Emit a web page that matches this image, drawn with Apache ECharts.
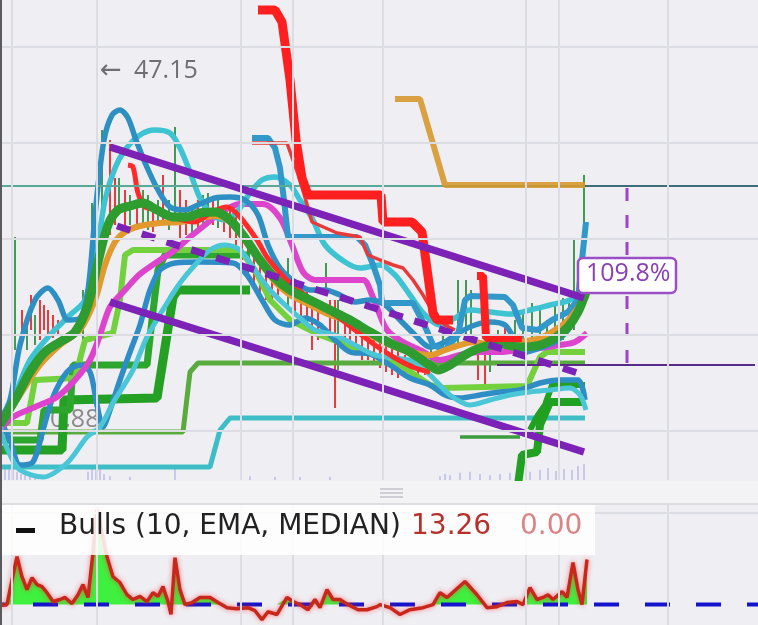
<!DOCTYPE html>
<html>
<head>
<meta charset="utf-8">
<script src="https://cdn.jsdelivr.net/npm/echarts@6/dist/echarts.min.js"></script>
<style>
  html, body { margin: 0; padding: 0; background: #eeeef3; }
  #chart { width: 758px; height: 625px; }
</style>
</head>
<body>
<div id="chart"></div>
<script>
// x = bar index, y = price level (main pane) / bulls power (lower pane)

// grid lines
let gridX = [3, 24.25, 60.25, 73.25, 95.75, 131.5, 139.75, 167];
let gridY = [43.3, 33.7, 24.1, 14.5, 4.9];
let gridYBulls = [27.1];

// indicator lines
let blueHump = [[0,6.0],[2.5,8.0],[5,13.5],[8.75,18.0],[12,19.2],[14.5,18.0],[17,16.0],[20,16.2],[22,19.0],[24,27.5],[26,34.0],[28,36.5],[30,37.0],[32,36.2],[34,34.0],[36.5,31.5],[39.5,29.0],[42.5,27.3],[46.25,27.0],[50,27.6],[53.75,28.2],[57.5,28.3],[61.25,28.0],[64.5,26.5],[67,23.5],[70,21.2],[73.75,19.8],[77.5,19.0],[81.25,19.0],[85,18.5],[88.75,17.8],[92.5,18.0],[96.25,17.5],[100,16.0],[103.75,14.5],[107.5,13.3],[111.25,13.8],[115,14.8],[118.75,15.5],[122.5,15.8],[126.25,15.5],[128.75,14.0],[131.25,12.8],[135,13.2],[138.75,13.8],[142,15.0],[144.5,17.0]];
let blueDeep = [[0,6.0],[2.5,4.0],[5,1.5],[8.25,1.8],[10.75,5.0],[13.25,8.3],[16.75,10.8],[20,11.5],[22.5,10.8],[24.25,7.5],[25.75,5.3],[27.5,7.0],[30,10.0],[32.5,12.8],[35,15.5],[37.5,19.0],[40,21.0],[43.75,21.7],[50,21.8],[58.25,21.7],[61.75,20.5],[65.5,18.0],[68.75,16.0],[72.5,15.5],[76.25,16.2],[80,15.5],[83.75,14.0],[87.5,12.8],[92.5,12.6],[97.5,11.5],[102.5,10.2],[107.5,9.5],[111.25,8.5],[115,8.2],[120,8.5],[125,8.8],[130,9.0],[135,9.7],[140,10.0],[144.5,10.0],[146.25,8.0]];
let cyanArc = [[0,5.0],[3.75,8.5],[7.5,12.0],[12.5,14.5],[17.5,16.5],[21.25,18.0],[24.25,23.0],[26.25,28.0],[28.75,31.2],[31.25,33.0],[35,34.5],[38.75,35.0],[42.5,34.7],[45,33.2],[47.5,30.8],[50,28.2],[53,26.5],[56.25,26.0],[59.25,26.8],[62.5,28.7],[65.5,30.0],[68.75,30.3],[72.5,29.5],[75,28.0],[78,26.2],[81.25,23.5],[86.25,21.8],[90,21.2],[95,21.5],[98.75,20.5],[102.5,18.5],[106.25,16.5],[110,15.5],[113.75,16.2],[117.5,17.0],[122.5,16.8],[127.5,16.6],[132.5,17.0],[137.5,17.5],[142.5,18.0],[146.25,19.2]];
let cyanDeep = [[0,5.0],[2.5,2.5],[5,1.0],[10.75,0.3],[16.75,1.7],[21.75,4.3],[25,5.3],[28.25,7.7],[33.25,11.0],[36.75,14.3],[41.75,17.7],[45,19.7],[48.75,21.5],[52.5,23.0],[56.25,23.5],[60,23.0],[63.75,21.0],[67.5,19.0],[71.25,17.5],[75,16.2],[78.75,15.0],[83.75,14.5],[88.75,13.5],[93.75,12.5],[98.75,12.2],[103.75,11.8],[108.75,10.0],[112.5,8.5],[117.5,7.5],[122.5,8.0],[127.5,8.5],[132.5,8.8],[137.5,9.0],[142.5,9.2],[145,8.5],[146.5,7.0]];
let blueStep = [[63,34.2],[67,34.2],[68.75,33.2],[70,31.2],[71,28.0],[72,24.3],[89.25,24.3],[91.25,23.5],[93,21.8],[95,19.5],[95.5,17.7],[103.25,17.7],[105.75,15.8],[108.25,13.5],[111.25,13.0],[114.5,14.5],[116.25,18.0],[117.5,18.4],[126.25,18.3],[128.25,17.5],[130.5,15.2],[134.5,15.0],[138,16.0],[142,16.8],[144.5,18.0],[145.5,22.0],[146.5,25.8]];
let redThin = [[63,33.7],[71.75,33.7],[75,30.0],[78,25.8],[84.25,24.7],[90,24.3],[92,22.5],[95,22.0],[98.25,21.5],[100.75,21.2],[103.25,20.0],[105.75,18.5],[108.25,16.8],[111.25,15.5],[113.75,15.0]];
let redStop = [[64.5,47.0],[68.75,47.0],[70.5,45.8],[72.5,40.0],[74,34.0],[75.5,30.2],[77,28.5],[95.25,28.5],[95.75,25.8],[103,25.8],[105.5,24.8],[108.25,16.7],[109.25,16.0],[113.25,16.0]];
let redStop2 = [[119.25,20.4],[120.75,20.4],[121.5,14.2],[130.5,14.2]];
let redPrice = [[32,31.5],[33.25,31.3],[34.5,28.7],[36.25,27.3],[40,27.0],[43.75,26.2],[48.75,25.8],[53,26.8],[56.75,27.3],[60,26.3],[64.25,24.0],[66.75,22.3],[70,20.7],[73,19.5],[76.25,18.5],[79.5,17.5],[83.75,16.5],[88.75,15.0],[93.75,13.5],[98.75,12.2],[103.75,11.2],[107.5,10.8]];
let magenta = [[0,5.0],[3.25,6.3],[8.75,7.3],[14.25,8.3],[18.75,10.0],[22.5,12.0],[25,14.5],[27.5,17.3],[31.25,19.0],[35,20.6],[40,22.0],[43.75,23.0],[47.5,24.3],[51.25,25.5],[55,26.7],[60,27.6],[65.75,27.6],[70,26.2],[73,23.5],[75.75,20.8],[78.75,20.0],[90.75,20.0],[93,18.5],[96.75,15.0],[101.25,13.7],[105,13.0],[110,12.0],[115,12.5],[120,12.8],[125,12.8],[130,13.0],[135,13.2],[140,13.5],[143.75,13.8],[146.75,14.7]];
let orange = [[0,5.5],[5,8.5],[10,11.5],[15,13.5],[20,15.0],[23.75,18.0],[26.25,21.5],[28.75,23.8],[31.25,24.8],[35,25.4],[40,25.7],[45,25.8],[50,26.2],[53.75,26.4],[57.5,25.8],[61.25,24.0],[65,21.8],[68.75,19.8],[72.5,18.5],[77.5,17.5],[82.5,16.5],[87.5,15.8],[92.5,14.5],[97.5,13.5],[102.5,12.8],[107.5,12.5],[111.25,13.0],[115,13.5],[118.75,13.8],[122.5,13.5],[126.25,13.5],[130,13.8],[135,14.2],[138.75,15.0],[142,16.0],[145,17.5],[146.75,18.5]];
let greenMain = [[0,5.5],[3.75,8.0],[7.5,10.8],[11.25,12.8],[15,13.8],[18.75,14.8],[22,17.5],[24.5,21.8],[27,25.5],[29.5,27.0],[32.5,27.4],[35.75,27.7],[39.25,27.0],[43.25,26.3],[46.75,26.3],[50,26.7],[53.75,26.8],[57.5,26.0],[61.25,24.2],[65,22.0],[68.75,20.2],[72.5,19.0],[77.5,18.0],[82.5,17.0],[87.5,16.0],[92.5,14.8],[97.5,13.7],[102.5,12.8],[106.25,11.8],[109.5,11.0],[112.5,11.5],[116.25,12.5],[120,13.2],[125,13.6],[130,13.3],[135,13.5],[138.75,14.2],[142,15.3],[144.5,16.8],[146.5,18.8]];
let greenStepA = [[0,3.0],[15.5,3.0],[16,8.0],[39.25,8.2],[40.75,12.0],[43.25,18.3],[44.5,19.0],[62.5,19.0]];
let greenStepB = [[0,4.0],[10,4.0],[11,7.0],[17.5,7.0],[18.25,11.5],[36.75,11.5],[38,16.0],[39.5,21.0],[41.25,22.5],[62.5,22.5]];
let lime = [[0,5.7],[6.75,5.7],[8.75,10.0],[18.75,10.2],[21.25,14.0],[28.25,14.7],[30,18.0],[31.25,22.5],[33.25,23.0],[50,23.0],[60,23.0],[63.75,21.0],[67.5,18.0],[72.5,16.0],[80,14.5],[90,13.0],[100,11.5],[107.5,9.5],[110.75,9.2],[131.75,9.4],[135,12.3],[136.75,12.8],[146.25,12.8]];
let greenLow = [[0,4.8],[45.75,4.8],[47.5,10.8],[49.5,11.7],[146.25,11.7]];
let cyanLow = [[0,1.3],[52.5,1.3],[55,5.0],[57.5,6.2],[146.25,6.2]];
let greenShort = [[115,4.3],[130,4.3]];
let greenRise1 = [[129.5,-0.5],[130.5,2.5],[134.25,2.8],[135,5.5],[137.5,7.8],[146.25,7.8]];
let greenRise2 = [[132.5,5.0],[134.5,6.5],[136.25,7.5],[138,9.5],[146.25,9.5]];
let goldStep = [[98.75,38.1],[105,38.1],[111.25,29.5],[146.25,29.5]];

// levels and drawings
let tealLevel = 29.4;
let lastBar = 146.25;
let purpleLevel = [124.25, 188.75, 11.5];
let channelTop = [[27.5,33.3],[146,18.2]];
let channelMid = [[29.25,25.4],[146,10.5]];
let channelLow = [[27.5,17.8],[146,2.8]];
let measure = [[156.75,29.2],[156.75,11.5]];

// candles: [bar, low, high, up]
let candles = [[0,6.5,8.5,0],[3.75,13.0,24.3,1],[5.5,13.5,17.0,0],[6.75,13.0,16.0,1],[7.75,15.0,18.5,0],[8.75,13.5,16.5,1],[10,14.0,18.0,0],[11,15.0,17.5,0],[12,14.0,17.0,0],[13.25,14.2,16.5,0],[14.5,14.5,16.0,0],[20.75,13.3,19.0,1],[23,18.0,27.7,1],[24.25,23.0,40.3,0],[25.5,26.5,35.0,1],[27.5,24.5,34.0,0],[28.75,25.5,30.2,0],[29.75,26.7,30.2,1],[31.25,24.8,29.0,0],[32.5,25.5,28.5,1],[34.25,25.0,28.0,0],[35.75,25.5,29.0,1],[37,25.0,28.5,1],[38.25,24.8,27.5,0],[39.5,25.5,28.0,1],[40.75,25.5,30.5,0],[42.25,25.0,28.0,1],[43.75,26.0,35.3,1],[45,24.0,29.0,0],[46.5,24.5,28.0,0],[48,24.8,27.5,1],[49.5,25.0,28.0,0],[50.75,25.2,28.5,1],[52,25.5,28.7,1],[53.25,25.5,28.2,0],[54.5,25.2,28.0,1],[56,24.8,27.5,0],[57.5,24.0,27.0,0],[59,23.0,26.5,0],[60.5,22.0,25.5,0],[62,20.5,24.0,0],[63.5,19.0,22.5,0],[65,18.0,21.5,0],[66.5,18.0,21.0,0],[68,18.0,20.5,0],[69.5,18.0,20.0,0],[72,17.0,22.2,1],[73.75,16.5,19.5,0],[75.25,16.0,19.0,0],[76.75,15.5,19.0,0],[78,13.0,18.0,0],[79.5,14.0,17.5,0],[81.5,18.5,21.7,1],[82.5,14.5,18.0,0],[83.75,7.2,18.0,0],[84.5,11.0,18.0,1],[86.25,13.5,16.5,0],[87.5,13.0,16.0,0],[89,12.5,16.0,0],[90.5,12.0,15.5,0],[92,12.0,15.0,0],[93.5,11.5,14.5,0],[95,11.2,14.0,0],[96.5,10.8,13.5,0],[98,10.5,13.2,0],[99.5,10.2,13.0,0],[101.25,10.2,12.5,0],[102.75,10.5,12.5,0],[104.5,10.2,12.2,0],[106.25,10.5,12.5,0],[107.75,11.0,14.0,1],[110.75,13.2,14.8,1],[114.5,13.5,20.0,1],[116.5,13.5,20.0,1],[117.75,14.0,19.0,1],[119.5,10.0,13.0,0],[121.25,9.5,13.0,0],[122.5,10.8,12.5,1],[124.5,12.5,15.0,1],[126.25,13.5,15.5,0],[128.75,13.5,16.0,1],[130.75,14.0,17.0,1],[133,13.0,17.7,1],[135,14.2,17.0,1],[136.75,13.5,16.0,1],[138.75,14.5,17.5,1],[140.75,14.0,18.2,1],[142.25,15.0,18.0,1],[143.5,15.0,24.0,1],[146,18.0,30.5,1]];

let volume = [[1.25,2.5],[2.25,3.1],[3.25,2.1],[4.25,1.7],[5.25,1.25],[6.25,1.0],[7.5,0.8],[8.75,0.6],[22,1.7],[23,2.9],[24,3.3],[25,2.5],[26,1.25],[27.5,0.8],[32.5,0.6],[43.75,2.5],[62.5,0.8],[68.75,0.6],[75,0.6],[82.5,0.6],[110,0.8],[111.25,1.25],[112.5,1.0],[115,1.5],[117.5,1.7],[120,1.25],[122.5,1.0],[125,1.25],[127.5,1.5],[130,1.0],[132.5,1.7],[135,2.1],[137,2.5],[139,1.9],[141,2.3],[143,2.1],[144.5,2.9],[146,3.3]];

// Bulls (10, EMA, MEDIAN)
let bulls = [[0,-0.3],[1.75,0],[2.5,4.4],[4.25,14.1],[5.5,8.2],[6.75,4.4],[8,7.9],[9.25,5.9],[10.5,5.3],[11.75,3.5],[13.25,0.9],[15,1.5],[16.25,2.1],[18,0.3],[19.5,2.9],[20.75,5.9],[22,2.1],[23.25,15.3],[24.25,27.9],[26.75,14.1],[28.25,8.2],[30,6.5],[31.75,2.9],[33.25,1.5],[35,2.4],[36.75,0.9],[38.25,3.5],[39.5,2.4],[40.75,5.3],[42,0.9],[42.75,-2.9],[43.75,13.8],[45,4.4],[46.25,0],[48,0.6],[50,2.1],[52.5,2.1],[54.5,0.6],[56.75,-0.9],[59.25,-1.2],[62,-0.9],[63.75,-1.8],[65.5,-4.4],[67,-2.1],[69.25,-2.9],[71.75,2.1],[73.25,0.9],[75,0],[77,-1.5],[78.75,1.5],[80,-0.9],[81.75,4.4],[83.25,1.5],[85,1.5],[87,0],[89.5,-1.5],[91.75,-1.5],[94.25,-0.6],[95,0],[97.5,-0.9],[100,-2.9],[102.5,-1.5],[105.75,-0.9],[108.25,0],[110,3.5],[111.75,2.1],[116.25,6.8],[119.25,2.9],[121.75,-0.9],[124.25,-0.6],[126.75,0.6],[129.25,0.9],[130.75,0],[132.5,5.0],[134.25,1.5],[135.75,2.1],[137,2.9],[138.25,1.5],[140.5,3.8],[141.75,2.1],[143.25,12.4],[144.5,4.4],[145.5,0],[146.75,13.26]];
let bullsLast = '13.26';
let bearsLast = '0.00';

let chart = echarts.init(document.getElementById('chart'));

function line(name, data, color, width, opts) {
    return Object.assign({
        name: name,
        type: 'line',
        data: data,
        showSymbol: false,
        silent: true,
        lineStyle: { color: color, width: width },
        xAxisIndex: 0,
        yAxisIndex: 0
    }, opts || {});
}

let gridLineStyle = { color: '#dcdce3', width: 2, type: 'solid' };
let labelFont = '"Open Sans", sans-serif';
let legendFont = '28px "DejaVu Sans", sans-serif';

let series = [
    {
        type: 'line', data: [], silent: true,
        markLine: {
            symbol: 'none', silent: true, animation: false, label: { show: false },
            lineStyle: gridLineStyle,
            data: gridX.map(v => ({ xAxis: v })).concat(gridY.map(v => ({ yAxis: v })))
        }
    },
    {
        type: 'line', data: [], silent: true, xAxisIndex: 1, yAxisIndex: 2,
        markLine: {
            symbol: 'none', silent: true, animation: false, label: { show: false },
            lineStyle: gridLineStyle,
            data: gridX.map(v => ({ xAxis: v })).concat(gridYBulls.map(v => ({ yAxis: v })))
        }
    },
    {
        name: 'volume', type: 'bar', data: volume, xAxisIndex: 0, yAxisIndex: 1,
        barWidth: 2, silent: true, itemStyle: { color: 'rgba(130,130,225,0.35)' }
    },
    line('cyanLow', cyanLow, '#3fbdc6', 5),
    line('greenLow', greenLow, '#5aab3e', 5),
    line('greenStepA', greenStepA, '#24a024', 9),
    line('greenStepB', greenStepB, '#2ca62c', 7),
    line('lime', lime, '#72d13c', 6),
    line('greenShort', greenShort, '#3e9c3e', 3.5),
    line('greenRise1', greenRise1, '#22a022', 8),
    line('greenRise2', greenRise2, '#22a022', 6),
    line('blueDeep', blueDeep, '#2f8dc6', 5.5, { smooth: 0.3 }),
    line('cyanDeep', cyanDeep, '#4bc6d6', 5, { smooth: 0.3 }),
    line('magenta', magenta, '#dd44cc', 6, { smooth: 0.3 }),
    line('cyanArc', cyanArc, '#3ec3d3', 5.5, { smooth: 0.3 }),
    line('blueHump', blueHump, '#2e90c2', 5.5, { smooth: 0.3 }),
    line('blueStep', blueStep, '#3198c9', 6),
    line('redThin', redThin, '#e83a3a', 3.5),
    line('orange', orange, '#e29a2e', 6, { smooth: 0.3 }),
    line('redPrice', redPrice, '#ff2a2a', 5, { smooth: 0.3 }),
    line('greenMain', greenMain, '#2e9c2e', 9, { smooth: 0.3 }),
    {
        name: 'candles', type: 'custom', data: candles, silent: true,
        renderItem: function(params, api) {
            let top = api.coord([api.value(0), api.value(2)]);
            let bot = api.coord([api.value(0), api.value(1)]);
            return {
                type: 'line',
                shape: { x1: top[0], y1: top[1], x2: bot[0], y2: bot[1] },
                style: { stroke: api.value(3) ? '#2f8f45' : '#e8262a', lineWidth: 1.8 }
            };
        }
    },
    line('tealA', [[0, tealLevel], [lastBar, tealLevel]], '#5aa897', 2),
    line('tealB', [[lastBar, tealLevel], [189.5, tealLevel]], '#3e6e78', 2),
    line('goldStep', goldStep, 'rgba(214,150,40,0.88)', 6),
    line('redStop', redStop, '#ff1f1f', 9),
    line('redStop2', redStop2, '#ff1f1f', 8),
    line('purpleLevel', [[purpleLevel[0], purpleLevel[2]], [purpleLevel[1], purpleLevel[2]]], '#5a2a8a', 2),
    line('measure', measure, '#9b45c8', 3, { lineStyle: { color: '#9b45c8', width: 3, type: [13, 14] } }),
    line('channelTop', channelTop, '#7c22b6', 7.5),
    line('channelLow', channelLow, '#7c22b6', 7.5),
    line('channelMid', channelMid, '#7c22b6', 7, { lineStyle: { color: '#7c22b6', width: 7, type: [14, 12] } }),
    // lower pane
    {
        name: 'bullsArea', type: 'line', xAxisIndex: 1, yAxisIndex: 2, silent: true,
        data: bulls.map(p => [p[0], Math.max(p[1], 0)]),
        showSymbol: false, lineStyle: { width: 0 },
        areaStyle: { color: '#3ff03f', opacity: 1, origin: 0 }
    },
    {
        name: 'zero', type: 'line', xAxisIndex: 1, yAxisIndex: 2, silent: true,
        data: [[0, 0], [189.5, 0]], showSymbol: false,
        lineStyle: { color: '#1414cc', width: 4, type: [25, 26], dashOffset: 18 }
    },
    {
        name: 'bulls', type: 'line', xAxisIndex: 1, yAxisIndex: 2, silent: true,
        data: bulls, showSymbol: false,
        lineStyle: { color: '#c8281c', width: 3.5, shadowBlur: 5, shadowColor: 'rgba(255,40,40,0.6)' }
    }
];

let option = {
    animation: false,
    backgroundColor: '#eeeef3',
    grid: [
        { left: 0, right: 0, top: 0, height: 480 },
        { left: 0, right: 0, top: 505, height: 120 }
    ],
    xAxis: [
        { type: 'value', gridIndex: 0, min: 0, max: 189.5, show: false },
        { type: 'value', gridIndex: 1, min: 0, max: 189.5, show: false }
    ],
    yAxis: [
        { type: 'value', gridIndex: 0, min: 0, max: 48, show: false },
        { type: 'value', gridIndex: 0, min: 0, max: 100, show: false },
        { type: 'value', gridIndex: 1, min: -6, max: 29.3, show: false }
    ],
    graphic: [
        { type: 'text', z: 1, left: 50, top: 407, style: { text: '0.88', font: '25px ' + labelFont, fill: '#8a8a8e' } },
        { type: 'text', z: 100, left: 100, top: 58, style: { text: '\u2190', font: '26px "DejaVu Sans"', fill: '#6f6f73' } },
        { type: 'text', z: 100, left: 134, top: 58, style: { text: '47.15', font: '25px ' + labelFont, fill: '#6f6f73' } },
        { type: 'rect', z: 100, shape: { x: 578, y: 258, width: 98, height: 35, r: 5 }, style: { fill: '#fff', stroke: '#9b4fc6', lineWidth: 2.5 } },
        { type: 'text', z: 101, left: 586, top: 261, style: { text: '109.8%', font: '25px ' + labelFont, fill: '#8a3fb5' } },
        { type: 'rect', z: 50, shape: { x: 0, y: 481, width: 758, height: 24 }, style: { fill: '#f3f3f6' } },
        { type: 'line', z: 51, shape: { x1: 0, y1: 504, x2: 758, y2: 504 }, style: { stroke: '#d4d4da', lineWidth: 1.5 } },
        { type: 'line', z: 51, shape: { x1: 380, y1: 489, x2: 403, y2: 489 }, style: { stroke: '#c2c2c8', lineWidth: 1.5 } },
        { type: 'line', z: 51, shape: { x1: 380, y1: 493, x2: 403, y2: 493 }, style: { stroke: '#c2c2c8', lineWidth: 1.5 } },
        { type: 'line', z: 51, shape: { x1: 380, y1: 497, x2: 403, y2: 497 }, style: { stroke: '#c2c2c8', lineWidth: 1.5 } },
        { type: 'rect', z: 60, shape: { x: 0, y: 505, width: 595, height: 50 }, style: { fill: 'rgba(255,255,255,0.86)' } },
        { type: 'rect', z: 61, shape: { x: 16, y: 528, width: 19, height: 5 }, style: { fill: '#111' } },
        { type: 'text', z: 61, left: 59, top: 513, style: { text: 'Bulls (10, EMA, MEDIAN)', font: legendFont, fill: '#222' } },
        { type: 'text', z: 61, left: 411, top: 513, style: { text: bullsLast, font: legendFont, fill: '#b8302a' } },
        { type: 'text', z: 61, left: 520, top: 513, style: { text: bearsLast, font: legendFont, fill: '#d98585' } },
        { type: 'rect', z: 70, shape: { x: 0, y: 0, width: 2, height: 625 }, style: { fill: '#5a5a5e' } }
    ],
    series: series
};

chart.setOption(option);
</script>
</body>
</html>
